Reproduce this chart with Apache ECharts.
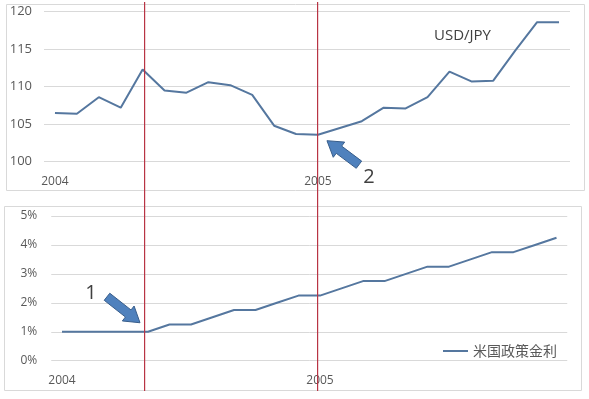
<!DOCTYPE html>
<html>
<head>
<meta charset="utf-8">
<script src="https://cdn.jsdelivr.net/npm/echarts@6/dist/echarts.min.js"></script>
<style>
  body { margin: 0; background: #fff; }
  #main { width: 589px; height: 399px; }
</style>
</head>
<body>
<div id="main"></div>
<script>
  // 月次データ 2004/01 - 2005/12
  const months = [
    '2004-01', '2004-02', '2004-03', '2004-04', '2004-05', '2004-06',
    '2004-07', '2004-08', '2004-09', '2004-10', '2004-11', '2004-12',
    '2005-01', '2005-02', '2005-03', '2005-04', '2005-05', '2005-06',
    '2005-07', '2005-08', '2005-09', '2005-10', '2005-11', '2005-12'
  ];
  const usdJpy = [
    106.5, 106.4, 108.6, 107.2, 112.3, 109.5, 109.2, 110.6, 110.2, 108.9, 104.8, 103.7,
    103.6, 104.5, 105.4, 107.2, 107.1, 108.6, 112.0, 110.7, 110.8, 114.8, 118.6, 118.6
  ];
  const fedRate = [
    1.00, 1.00, 1.00, 1.00, 1.00, 1.25, 1.25, 1.50, 1.75, 1.75, 2.00, 2.25,
    2.25, 2.50, 2.75, 2.75, 3.00, 3.25, 3.25, 3.50, 3.75, 3.75, 4.00, 4.25
  ];
  const yenTicks = [100, 105, 110, 115, 120];
  const rateTicks = [0, 1, 2, 3, 4, 5];
  // 赤線の位置（月）
  const eventMonths = [4, 12];

  const lineColor = '#55779f';
  const labelColor = '#595959';
  const gridColor = '#d9d9d9';
  const redColor = '#b83444';
  const font = 'Open Sans, Noto Sans, sans-serif';

  let myChart = echarts.init(document.getElementById('main'));

  function yearLabel(v) {
    return v.slice(5) === '01' ? v.slice(0, 4) : '';
  }

  myChart.setOption({
    animation: false,
    title: {
      text: 'USD/JPY',
      left: 429,
      top: 23,
      textStyle: { fontSize: 15, fontWeight: 'normal', color: '#404040', fontFamily: font }
    },
    legend: {
      data: ['米国政策金利'],
      left: 438,
      top: 339,
      icon: 'rect',
      itemWidth: 25,
      itemHeight: 2,
      itemGap: 4,
      textStyle: { fontSize: 14, color: labelColor, fontFamily: 'Noto Sans CJK JP' }
    },
    grid: [
      { left: 44, top: 11.7, width: 526, height: 150 },
      { left: 51.25, top: 216, width: 516, height: 144.7 }
    ],
    xAxis: [0, 1].map(function (i) {
      return {
        type: 'category',
        gridIndex: i,
        data: months,
        boundaryGap: true,
        axisLine: { show: false },
        axisTick: { show: false },
        axisLabel: {
          interval: 0,
          margin: 14,
          formatter: yearLabel,
          fontSize: 12,
          color: labelColor,
          fontFamily: font
        }
      };
    }),
    yAxis: [
      {
        type: 'value',
        gridIndex: 0,
        min: yenTicks[0],
        max: yenTicks[yenTicks.length - 1],
        interval: 5,
        axisLabel: { margin: 12, fontSize: 13, color: labelColor, fontFamily: font },
        splitLine: { lineStyle: { color: gridColor } }
      },
      {
        type: 'value',
        gridIndex: 1,
        min: rateTicks[0],
        max: rateTicks[rateTicks.length - 1],
        interval: 1,
        axisLabel: { margin: 14, fontSize: 12, color: labelColor, fontFamily: font, formatter: '{value}%' },
        splitLine: { lineStyle: { color: gridColor } }
      }
    ],
    series: [
      {
        name: 'USD/JPY',
        type: 'line',
        xAxisIndex: 0,
        yAxisIndex: 0,
        data: usdJpy,
        symbol: 'none',
        lineStyle: { color: lineColor, width: 2 },
        itemStyle: { color: lineColor }
      },
      {
        name: '米国政策金利',
        type: 'line',
        xAxisIndex: 1,
        yAxisIndex: 1,
        data: fedRate,
        symbol: 'none',
        lineStyle: { color: lineColor, width: 2 },
        itemStyle: { color: lineColor }
      }
    ]
  });

  // 矢印（ブロック矢印）
  function arrowPoints(tail, tip, shaftW, headW, headL) {
    let dx = tip[0] - tail[0], dy = tip[1] - tail[1];
    let len = Math.sqrt(dx * dx + dy * dy);
    let ux = dx / len, uy = dy / len;
    let nx = -uy, ny = ux;
    let bx = tip[0] - ux * headL, by = tip[1] - uy * headL;
    return [
      [tail[0] + nx * shaftW / 2, tail[1] + ny * shaftW / 2],
      [bx + nx * shaftW / 2, by + ny * shaftW / 2],
      [bx + nx * headW / 2, by + ny * headW / 2],
      tip,
      [bx - nx * headW / 2, by - ny * headW / 2],
      [bx - nx * shaftW / 2, by - ny * shaftW / 2],
      [tail[0] - nx * shaftW / 2, tail[1] - ny * shaftW / 2]
    ];
  }

  let graphics = [];

  // パネルの枠
  graphics.push({
    type: 'rect', silent: true, z: 0,
    shape: { x: 6.5, y: 4.5, width: 578, height: 186 },
    style: { fill: 'none', stroke: gridColor, lineWidth: 1 }
  });
  graphics.push({
    type: 'rect', silent: true, z: 0,
    shape: { x: 4.5, y: 206.5, width: 577, height: 184 },
    style: { fill: 'none', stroke: gridColor, lineWidth: 1 }
  });

  // 赤い縦線
  eventMonths.forEach(function (idx) {
    let top = myChart.convertToPixel({ xAxisIndex: 0 }, months[idx]);
    let bottom = myChart.convertToPixel({ xAxisIndex: 1 }, months[idx]);
    let x = Math.floor((top + bottom) / 2) - 1;
    graphics.push({
      type: 'rect', silent: true, z: 10,
      shape: { x: x, y: 2, width: 1.2, height: 389 },
      style: { fill: redColor, stroke: null }
    });
  });

  // 矢印 2（USD/JPY の底）
  let p2 = myChart.convertToPixel({ xAxisIndex: 0, yAxisIndex: 0 }, [months[12], usdJpy[12]]);
  let tip2 = [p2[0] + 9, p2[1] + 6];
  let tail2 = [tip2[0] + 32, tip2[1] + 24];
  graphics.push({
    type: 'polygon', z: 20,
    shape: { points: arrowPoints(tail2, tip2, 9, 19, 15) },
    style: { fill: '#4f81bd', stroke: '#385d8a', lineWidth: 1 }
  });
  graphics.push({
    type: 'text', z: 20,
    x: tail2[0] + 10, y: tail2[1] + 13,
    style: { text: '2', fontSize: 20, fill: '#404040', fontFamily: font, align: 'center', verticalAlign: 'middle' }
  });

  // 矢印 1（利上げ開始）
  let p1 = myChart.convertToPixel({ xAxisIndex: 1, yAxisIndex: 1 }, [months[4], fedRate[4]]);
  let tip1 = [p1[0] - 8, p1[1] - 9];
  let tail1 = [tip1[0] - 33, tip1[1] - 26];
  graphics.push({
    type: 'polygon', z: 20,
    shape: { points: arrowPoints(tail1, tip1, 9, 19, 15) },
    style: { fill: '#4f81bd', stroke: '#385d8a', lineWidth: 1 }
  });
  graphics.push({
    type: 'text', z: 20,
    x: tail1[0] - 16, y: tail1[1] - 3,
    style: { text: '1', fontSize: 20, fill: '#404040', fontFamily: font, align: 'center', verticalAlign: 'middle' }
  });

  myChart.setOption({ graphic: graphics });
</script>
</body>
</html>
